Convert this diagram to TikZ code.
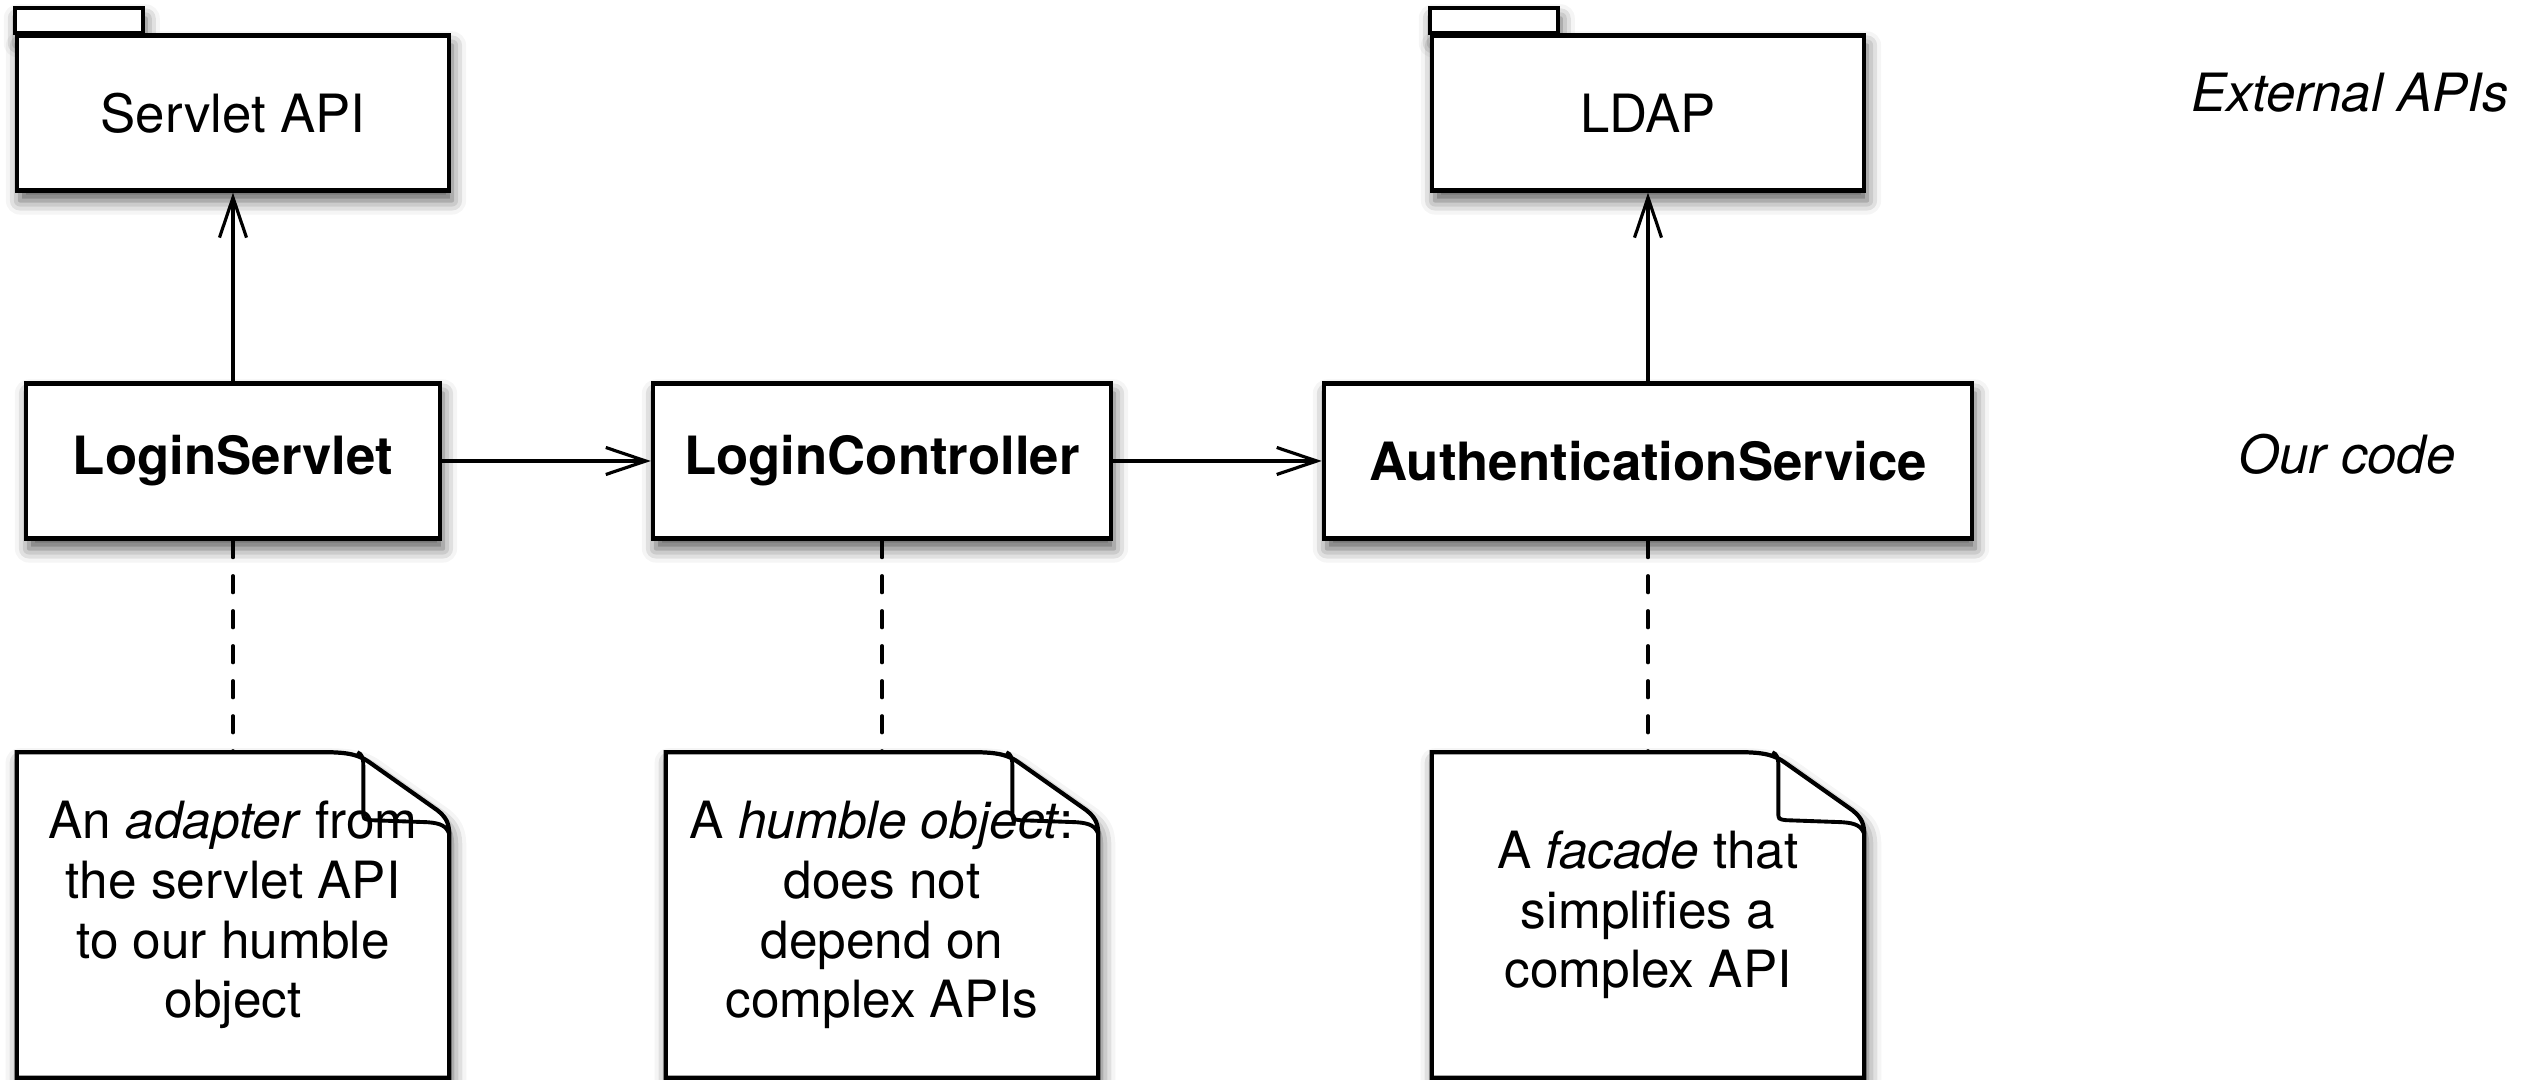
\documentclass[tikz,border=0pt]{standalone}
\usepackage{fontspec}
\setmainfont{TeX Gyre Heros}
\usetikzlibrary{arrows.meta,shadows.blur,backgrounds,calc}
\begin{document}
\begin{tikzpicture}[x=0.01cm, y=0.01cm,
  soft/.style={blur shadow={shadow xshift=0.03cm, shadow yshift=-0.1cm, shadow blur radius=0.14cm, shadow opacity=65}},
  frame/.style={line width=1.2pt, fill=white, soft},
  cls/.style={draw, frame, minimum height=1.55cm, font=\fontsize{15}{18}\selectfont\bfseries},
  pkg/.style={draw, frame, minimum height=1.55cm, minimum width=4.32cm, font=\fontsize{15}{18}\selectfont},
  note/.style={minimum width=4.31cm, minimum height=3.24cm, align=center, font=\fontsize{14.6}{17}\selectfont},
  layer/.style={font=\fontsize{15}{18}\selectfont\itshape},
  dep/.style={-{Straight Barb[length=0.4cm,width=0.27cm]}, line width=0.9pt},
  link/.style={line width=0.9pt, dash pattern=on 0.17cm off 0.18cm, line cap=round}]
\useasboundingbox (0,0) rectangle (2540,-1080);
\node[pkg] (sapi) at (233,-113) {Servlet API};
\node[pkg] (ldap) at (1648,-113) {LDAP};
\node[cls, minimum width=4.14cm] (ls) at (233,-461) {LoginServlet};
\node[cls, minimum width=4.58cm] (lc) at (882,-461) {LoginController};
\node[cls, minimum width=6.48cm] (auth) at (1648,-461) {AuthenticationService};
\node[note] (n1) at (233,-915) {An \emph{adapter} from\\the servlet API\\to our humble\\object};
\node[note] (n2) at (882,-915) {A \emph{humble object}:\\does not\\depend on\\complex APIs};
\node[note] (n3) at (1648,-915) {A \emph{facade} that\\simplifies a\\complex API};
\node[layer] (ext) at (2350,-93) {External APIs};
\node[layer] (our) at (2347,-454) {Our code};
\begin{pgfonlayer}{background}
\foreach \p in {sapi,ldap}
  \draw[frame] (\p.north west) rectangle ($(\p.north west)+(128,25)$);
\foreach \n in {n1,n2,n3} {
  \draw[frame] (\n.south west) -- (\n.north west) -- ($(\n.north east)+(-125,0)$)
    .. controls ($(\n.north east)+(-100,0)$) and ($(\n.north east)+(-90,-3)$) .. ($(\n.north east)+(-80,-10)$)
    -- ($(\n.north east)+(-12,-58)$)
    .. controls ($(\n.north east)+(-2,-66)$) and ($(\n.north east)+(0,-72)$) .. ($(\n.north east)+(0,-85)$)
    -- (\n.south east) -- cycle;
  \draw[line width=1.1pt] ($(\n.north east)+(-92,0)$)
    .. controls ($(\n.north east)+(-87,-2)$) and ($(\n.north east)+(-86,-6)$) .. ($(\n.north east)+(-86,-14)$)
    -- ($(\n.north east)+(-86,-60)$)
    .. controls ($(\n.north east)+(-86,-67)$) .. ($(\n.north east)+(-78,-68)$)
    -- ($(\n.north east)+(-22,-70)$)
    .. controls ($(\n.north east)+(-8,-71)$) and ($(\n.north east)+(-3,-74)$) .. ($(\n.north east)+(0,-82)$);
}
\end{pgfonlayer}
\draw[dep] (ls) to (sapi);
\draw[dep] (auth) to (ldap);
\draw[dep] (ls) to (lc);
\draw[dep] (lc) to (auth);
\draw[link] (ls) to (n1);
\draw[link] (lc) to (n2);
\draw[link] (auth) to (n3);
\end{tikzpicture}
\end{document}
